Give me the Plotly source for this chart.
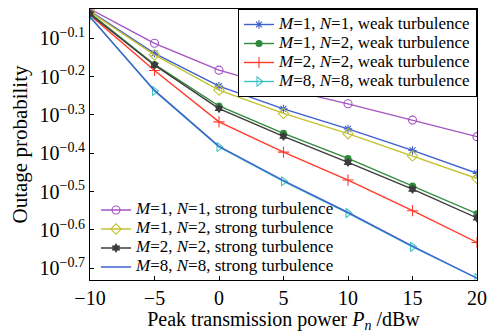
import plotly.graph_objects as go

power_dbw = [-10, -5, 0, 5, 10, 15, 20]

# outage probability, weak turbulence
weak_m1n1 = [0.935, 0.726, 0.596, 0.520, 0.461, 0.405, 0.353]
weak_m1n2 = [0.925, 0.679, 0.529, 0.449, 0.386, 0.327, 0.277]
weak_m2n2 = [0.914, 0.655, 0.481, 0.401, 0.339, 0.282, 0.233]
weak_m8n8 = [0.904, 0.579, 0.4135, 0.3365, 0.278, 0.227, 0.188]

# outage probability, strong turbulence
strong_m1n1 = [0.947, 0.771, 0.656, 0.587, 0.536, 0.486, 0.440]
strong_m1n2 = [0.931, 0.719, 0.582, 0.506, 0.448, 0.392, 0.342]
strong_m2n2 = [0.919, 0.676, 0.521, 0.441, 0.377, 0.321, 0.270]
strong_m8n8 = [0.903, 0.581, 0.415, 0.338, 0.279, 0.228, 0.188]

ytick_exponents = ["-0.1", "-0.2", "-0.3", "-0.4", "-0.5", "-0.6", "-0.7"]
ytick_values = [10 ** float(e) for e in ytick_exponents]
ytick_text = ["10<sup>\u2212" + e[1:] + "</sup>" for e in ytick_exponents]
xtick_values = [-10, -5, 0, 5, 10, 15, 20]
xtick_text = ["\u221210", "\u22125", "0", "5", "10", "15", "20"]

FONT = "Liberation Serif"


def lab(m, n, kind):
    it = '<span style="font-size:17px;font-style:italic">%s</span>'
    up = '<span style="font-size:17px">%s</span>'
    return (it % "M") + (up % ("=%d, " % m)) + (it % "N") + (up % ("=%d, %s turbulence" % (n, kind)))


series = [
    (weak_m1n1, lab(1, 1, "weak"), "#3d5fcf", "asterisk-open", 7, "legend"),
    (weak_m1n2, lab(1, 2, "weak"), "#2f8a3c", "circle", 6, "legend"),
    (weak_m2n2, lab(2, 2, "weak"), "#ff3a2a", "cross-thin-open", 8, "legend"),
    (weak_m8n8, lab(8, 8, "weak"), "#3cc4c8", "triangle-right-open", 8, "legend"),
    (strong_m1n1, lab(1, 1, "strong"), "#a552c2", "circle-open", 8, "legend2"),
    (strong_m1n2, lab(1, 2, "strong"), "#c2c232", "diamond-open", 8, "legend2"),
    (strong_m2n2, lab(2, 2, "strong"), "#3c3c3c", "hexagram", 6, "legend2"),
    (strong_m8n8, lab(8, 8, "strong"), "#4060cc", None, 0, "legend2"),
]

fig = go.Figure()
for ys, name, color, sym, size, lg in series:
    mode = "lines+markers" if sym else "lines"
    kw = dict(x=power_dbw, y=ys, name=name, mode=mode, legend=lg,
              line=dict(color=color, width=1.4))
    if sym:
        kw["marker"] = dict(symbol=sym, size=size, color=color,
                            line=dict(color=color, width=1.1))
    fig.add_trace(go.Scatter(**kw))

# page body has an 8px margin: figure is drawn from (8, 8)
fig.update_layout(
    width=491, height=325,
    margin=dict(l=82, r=22, t=1, b=53),
    plot_bgcolor="white", paper_bgcolor="white",
    font=dict(family=FONT, size=18, color="black"),
    legend=dict(x=1, y=1, xanchor="right", yanchor="top",
                bgcolor="white", bordercolor="black", borderwidth=1,
                font=dict(family=FONT, size=11, color="black"),
                tracegroupgap=0, itemwidth=30),
    legend2=dict(x=0.0155, y=0.153, xanchor="left", yanchor="middle",
                 bgcolor="rgba(255,255,255,0)", borderwidth=0,
                 font=dict(family=FONT, size=11, color="black"),
                 tracegroupgap=0, itemwidth=30),
    showlegend=True,
)
fig.update_xaxes(
    range=[-10, 20], tickvals=xtick_values, ticktext=xtick_text,
    ticks="inside", ticklen=4, tickcolor="black",
    showline=True, linecolor="black", linewidth=1, mirror=True,
    showgrid=False, zeroline=False,
    tickfont=dict(family=FONT, size=20),
    title=dict(text="Peak transmission power <i>P</i><sub><i>n</i></sub> /dBw",
               font=dict(family=FONT, size=20), standoff=7),
)
fig.update_yaxes(
    type="log", range=[-0.7305, -0.0235],
    tickvals=ytick_values, ticktext=ytick_text,
    ticks="inside", ticklen=4, tickcolor="black",
    showline=True, linecolor="black", linewidth=1, mirror=True,
    showgrid=False, zeroline=False,
    tickfont=dict(family=FONT, size=20),
    title=dict(text="Outage probability", font=dict(family=FONT, size=21), standoff=6),
)

fig.write_html("out.html")
